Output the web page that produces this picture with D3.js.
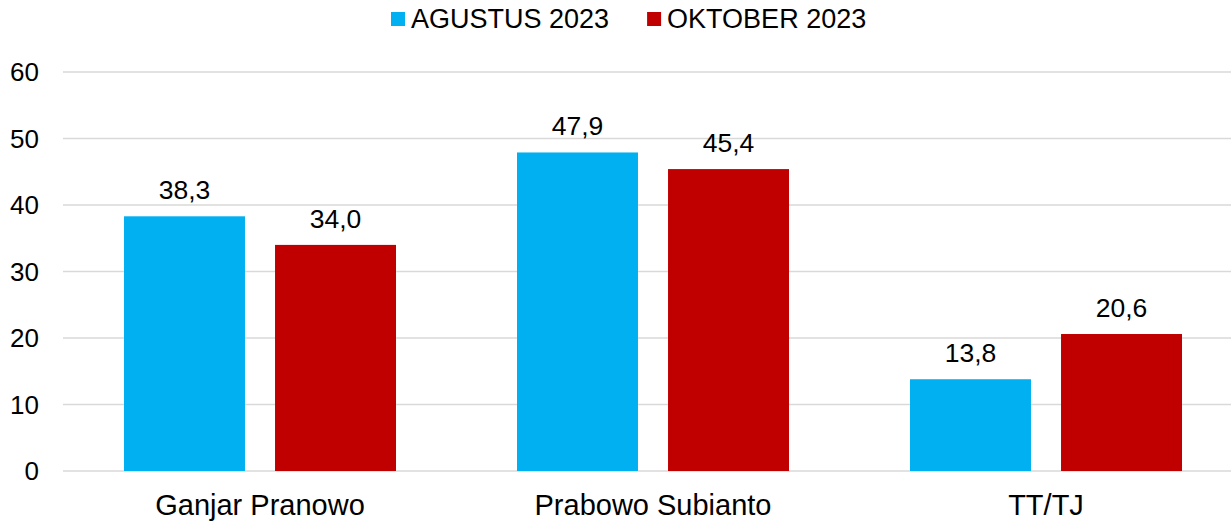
<!DOCTYPE html>
<html>
<head>
<meta charset="utf-8">
<script src="https://cdn.jsdelivr.net/npm/d3@7"></script>
<style>
  body { margin: 0; background: #fff; }
  svg { display: block; font-family: "Liberation Sans", Arial, sans-serif; }
</style>
</head>
<body>
<div class="grafik"></div>
<script>
// data
const kategori = ['Ganjar Pranowo', 'Prabowo Subianto', 'TT/TJ'];
const seri = ['AGUSTUS 2023', 'OKTOBER 2023'];
const nilaiAgustus = [38.3, 47.9, 13.8];
const nilaiOktober = [34.0, 45.4, 20.6];
const ticksY = [0, 10, 20, 30, 40, 50, 60];

const warna = ['#00B0F0', '#C00000'];

const ancho = 1231,
    alto = 521;

const svg = d3.select('.grafik').append('svg')
    .attr('width', ancho)
    .attr('height', alto);

const datos = kategori.map((k, i) => ({
    nombre: k,
    valores: [nilaiAgustus[i], nilaiOktober[i]]
}));

const y = d3.scaleLinear()
    .domain([0, 60])
    .range([471, 72]);

const x0 = d3.scaleBand()
    .domain(kategori)
    .range([63.5, 1242.5])
    .padding(0);

const x1 = d3.scaleBand()
    .domain(seri)
    .range([60.5, x0.bandwidth() - 60.5])
    .paddingInner(0.199)
    .paddingOuter(0);

// gridlines
svg.append('g')
    .selectAll('line')
    .data(ticksY)
    .enter().append('line')
    .attr('x1', 63)
    .attr('x2', ancho)
    .attr('y1', d => y(d))
    .attr('y2', d => y(d))
    .attr('stroke', '#D9D9D9')
    .attr('stroke-width', 1.5);

// eje y
svg.append('g')
    .selectAll('text')
    .data(ticksY)
    .enter().append('text')
    .attr('x', 39)
    .attr('y', d => y(d))
    .attr('dy', '0.36em')
    .attr('text-anchor', 'end')
    .attr('font-size', 26)
    .attr('fill', '#000')
    .text(d => d);

// barras
const grupos = svg.append('g')
    .selectAll('g')
    .data(datos)
    .enter().append('g')
    .attr('transform', d => 'translate(' + x0(d.nombre) + ',0)');

grupos.selectAll('rect')
    .data(d => d.valores.map((v, i) => ({ serie: seri[i], valor: v, i: i })))
    .enter().append('rect')
    .attr('x', d => x1(d.serie))
    .attr('y', d => y(d.valor))
    .attr('width', x1.bandwidth())
    .attr('height', d => y(0) - y(d.valor))
    .attr('fill', d => warna[d.i]);

grupos.selectAll('text.valor')
    .data(d => d.valores.map((v, i) => ({ serie: seri[i], valor: v })))
    .enter().append('text')
    .attr('class', 'valor')
    .attr('x', d => x1(d.serie) + x1.bandwidth() / 2)
    .attr('y', d => y(d.valor) - 17)
    .attr('text-anchor', 'middle')
    .attr('font-size', 26.5)
    .attr('fill', '#000')
    .text(d => d.valor.toFixed(1).replace('.', ','));

// eje x
svg.append('g')
    .selectAll('text')
    .data(kategori)
    .enter().append('text')
    .attr('x', d => x0(d) + x0.bandwidth() / 2)
    .attr('y', 515)
    .attr('text-anchor', 'middle')
    .attr('font-size', 29)
    .attr('fill', '#000')
    .text(d => d);

// leyenda
const leyenda = svg.append('g');
let posX = 391;
seri.forEach((s, i) => {
    leyenda.append('rect')
        .attr('x', posX)
        .attr('y', 12)
        .attr('width', 14)
        .attr('height', 14)
        .attr('fill', warna[i]);
    const t = leyenda.append('text')
        .attr('x', posX + 20)
        .attr('y', 28)
        .attr('font-size', 27)
        .attr('fill', '#000')
        .text(s);
    posX += 20 + t.node().getComputedTextLength() + 38;
});
</script>
</body>
</html>
